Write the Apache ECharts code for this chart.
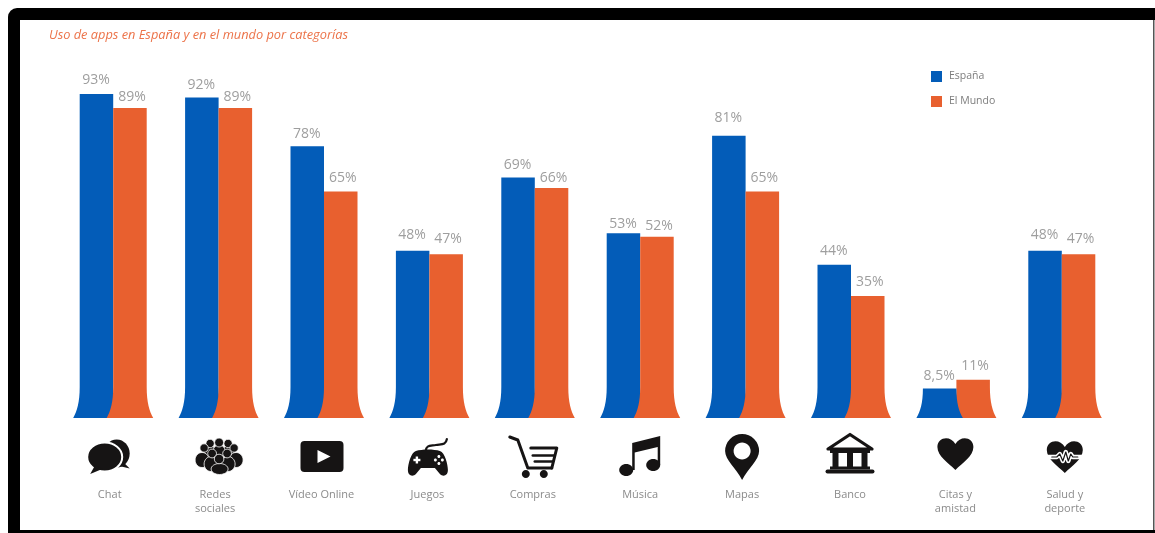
<!DOCTYPE html>
<html lang="es">
<head>
<meta charset="utf-8">
<title>Uso de apps en España y en el mundo por categorías</title>
<script src="https://cdn.jsdelivr.net/npm/echarts@6/dist/echarts.min.js"></script>
<style>
  html, body { margin: 0; padding: 0; background: #fff; }
  #chart { width: 1155px; height: 533px; }
</style>
</head>
<body>
<div id="chart"></div>
<script>
// Chart data
const chartTitle = 'Uso de apps en España y en el mundo por categorías';
const categories = ['Chat', 'Redes\nsociales', 'Vídeo Online', 'Juegos', 'Compras', 'Música', 'Mapas', 'Banco', 'Citas y\namistad', 'Salud y\ndeporte'];
const espana = [93, 92, 78, 48, 69, 53, 81, 44, 8.5, 48];
const mundo = [89, 89, 65, 47, 66, 52, 65, 35, 11, 47];

// Layout constants
const BLUE = '#035cb8';
const ORANGE = '#e8602f';
const INK = '#161414';
const BAR_W = 33.5;
const FLARE_W = 6.5;
const FLARE_H = 31;
const FONT = '"Open Sans", "Noto Sans", sans-serif';
const captionShift = [-3.5, -3.5, -2.5, -2, -2, 0, -3.5, -1, -1, 3];
const iconShift = [[-5, 39], [0.5, 38], [-2, 38.5], [-1.5, 39], [-1, 38], [0, 38], [-3.5, 38], [-1, 35], [-1, 35], [3, 38]];
const espanaLift = [15, 14, 14, 17, 14, 11, 19, 15, 14, 17];
const mundoLift = [12, 12, 15, 17, 12, 12, 15, 16, 15, 17];

// Icon primitives, drawn around the origin in pixels
const ell = (cx, cy, rx, ry, fill = INK, stroke, lineWidth) => ({ type: 'ellipse', shape: { cx, cy, rx, ry }, style: { fill, stroke, lineWidth } });
const fillPath = (pathData, fill = INK, stroke, lineWidth) => ({ type: 'path', shape: { pathData }, style: { fill, stroke, lineWidth } });
const line = (pathData, lineWidth, stroke = INK) => ({ type: 'path', shape: { pathData }, style: { fill: 'none', stroke, lineWidth, lineJoin: 'round', lineCap: 'round' } });
const box = (x, y, width, height, r = 0, fill = INK) => ({ type: 'rect', shape: { x, y, width, height, r }, style: { fill } });
const HEART = 'M0,17 C-7,10 -18,3 -18,-6 C-18,-16 -5,-18 0,-9 C5,-18 18,-16 18,-6 C18,3 7,10 0,17 Z';
const PULSE = 'L-8,1 L-5,-2 L-2,5 L1,-4 L3.5,5 L6,-2 L8,1 ';

const person = (hx, hy, r, bx, by, brx, bry) => [
  ell(bx, by, brx, bry, INK, '#fff', 0.8),
  ell(hx, hy, r, r, INK, '#fff', 0.8)
];

const icons = [
  // Chat bubbles
  [
    fillPath('M13,3 L21.5,11.5 L11,9 Z'),
    ell(8.5, -3.5, 13, 14),
    ell(-3.5, 0, 17.5, 14.5, INK, '#fff', 2),
    fillPath('M-13,8 L-18,17 L-6,12 Z')
  ],
  // Group of people
  [
    ...person(-9, -12.5, 4.2, -9, -4, 6, 6),
    ...person(9, -12.5, 4.2, 9, -4, 6, 6),
    ...person(0, -13.5, 4.5, 0, -5, 6, 6),
    ...person(-15, -8, 4.2, -17, 4, 7, 7.5),
    ...person(15, -8, 4.2, 17, 4, 7, 7.5),
    ...person(-7, -2.5, 4.4, -8, 8, 7, 7.5),
    ...person(8, -2.5, 4.4, 9, 8, 7, 7.5),
    ...person(0, 3, 4.8, 0.5, 13, 8.5, 5.5)
  ],
  // Video player
  [
    box(-21.5, -15.5, 43, 31, 4),
    fillPath('M-4.5,-6.5 L8.5,0 L-4.5,6.5 Z', '#fff')
  ],
  // Game controller
  [
    line('M-2,-6 C-2,-12 2,-11 8,-12 C14,-13 18,-12 19,-18', 2.2),
    fillPath('M-12,-6 C-6,-8 6,-8 12,-6 C17,-5 20,8 20,13 C20,19 15,20 12,17 L7,11 L-7,11 L-12,17 C-15,20 -20,19 -20,13 C-20,8 -17,-5 -12,-6 Z'),
    box(-14.5, 1.8, 7, 2.4, 0, '#fff'),
    box(-12.2, -0.5, 2.4, 7, 0, '#fff'),
    ell(11, -0.5, 1.5, 1.5, '#fff'),
    ell(11, 6.5, 1.5, 1.5, '#fff'),
    ell(7.5, 3, 1.5, 1.5, '#fff'),
    ell(14.5, 3, 1.5, 1.5, '#fff')
  ],
  // Shopping cart
  [
    line('M-24,-19 L-16,-16 L-6,12 L18,12', 3),
    line('M-3,-8 L23,-8 L18,12', 3),
    line('M-1,-0.5 L20,-0.5', 2.6),
    line('M1,5.5 L19,5.5', 2.6),
    ell(-8, 18, 4, 4),
    ell(10, 18, 4, 4)
  ],
  // Musical notes
  [
    fillPath('M-8,-13 L20,-20 L20,9 L17.5,9 L17.5,-9 L-5.5,-3.5 L-5.5,14 L-8,14 Z'),
    ell(-14, 14, 7, 6),
    ell(13, 9, 7, 6)
  ],
  // Map pin
  [
    fillPath('M0,24 C-6,12 -17,4 -17,-5 A17,17 0 1 1 17,-5 C17,4 6,12 0,24 Z'),
    ell(0, -5, 8.5, 8.5, '#fff')
  ],
  // Bank building
  [
    line('M-22,-4 L0,-18.5 L22,-4 Z', 3.2),
    box(-20, -3, 40, 3),
    box(-17.5, 0, 6, 16),
    box(-3, 0, 6, 16),
    box(11.5, 0, 6, 16),
    box(-20, 13.5, 40, 3),
    box(-24.5, 16.5, 49, 4, 2)
  ],
  // Heart
  [fillPath(HEART)],
  // Heart with pulse line
  [
    fillPath(HEART),
    line('M-20,1 ' + PULSE + 'L20,1', 4.4, '#fff'),
    line('M-13,1 ' + PULSE + 'L13,1', 1.2)
  ]
];

// One flared bar: straight sides that sweep outward near the baseline
function flaredBar(left, right, top, base) {
  const f = Math.min(FLARE_H, base - top);
  const k = f * 0.5;
  const c = FLARE_W * 0.42;
  const m = base - f * 0.22;
  return 'M' + left + ',' + top +
    ' L' + left + ',' + (base - f) +
    ' C' + left + ',' + (base - f + k) + ' ' + (left - c) + ',' + m + ' ' + (left - FLARE_W) + ',' + base +
    ' L' + (right + FLARE_W) + ',' + base +
    ' C' + (right + c) + ',' + m + ' ' + right + ',' + (base - f + k) + ' ' + right + ',' + (base - f) +
    ' L' + right + ',' + top + ' Z';
}

function barRenderer(side, partner, color, lifts) {
  return function (params, api) {
    const i = api.value(0);
    const v = api.value(1);
    const top = api.coord([i, v]);
    const base = api.coord([i, 0]);
    const left = side < 0 ? top[0] - BAR_W : top[0];
    const right = left + BAR_W;
    // The shorter bar of a pair overlaps the taller one at the baseline
    const z2 = v <= partner[i] ? 20 : 10;
    return {
      type: 'group',
      children: [
        { type: 'path', z2, shape: { pathData: flaredBar(left, right, top[1], base[1]) }, style: { fill: color } },
        {
          type: 'text', z2: 30, x: (left + right) / 2 + (side < 0 ? -0.5 : 2), y: top[1] - lifts[i] + 1.5,
          style: {
            text: String(v).replace('.', ',') + '%', fill: '#9e9e9e', fontSize: 14,
            fontFamily: FONT, align: 'center', verticalAlign: 'middle'
          }
        }
      ]
    };
  };
}

function iconRenderer(params, api) {
  const i = api.value(0);
  const base = api.coord([i, 0]);
  return {
    type: 'group',
    x: base[0] + iconShift[i][0],
    y: base[1] + iconShift[i][1],
    children: icons[i]
  };
}

// Caption styles carry the small horizontal nudge of each category name
const captionRich = {};
captionShift.forEach((s, i) => {
  captionRich['c' + i] = {
    color: '#8b8b8b', fontSize: 11, fontFamily: FONT, lineHeight: 14,
    padding: s < 0 ? [0, -2 * s, 0, 0] : [0, 0, 0, 2 * s]
  };
});

const chart = echarts.init(document.getElementById('chart'), null, { renderer: 'canvas' });
chart.setOption({
  animation: false,
  backgroundColor: '#fff',
  graphic: [
    { type: 'rect', z: 0, silent: true, shape: { x: 8, y: 8, width: 1147, height: 525, r: [9, 0, 0, 0] }, style: { fill: '#000' } },
    { type: 'rect', z: 0, silent: true, shape: { x: 20, y: 20, width: 1135, height: 510 }, style: { fill: '#fff' } },
    { type: 'rect', z: 0, silent: true, shape: { x: 1153, y: 20, width: 1.5, height: 510 }, style: { fill: '#555' } }
  ],
  title: {
    text: chartTitle, left: 49, top: 29, padding: 0,
    textStyle: { color: '#ec7349', fontSize: 12.8, fontStyle: 'italic', fontWeight: 'normal', fontFamily: FONT }
  },
  legend: {
    data: ['España', 'El Mundo'], orient: 'vertical', left: 931, top: 71, padding: 0,
    icon: 'rect', itemWidth: 11, itemHeight: 11, itemGap: 14,
    textStyle: { color: '#7d7d7d', fontSize: 10.5, fontFamily: FONT, padding: [0, 0, 0, 2] },
    selectedMode: false
  },
  grid: { left: 60.5, width: 1054, top: 69.6, height: 348.4 },
  xAxis: {
    type: 'category', data: categories,
    axisLine: { show: false }, axisTick: { show: false },
    axisLabel: {
      margin: 70, interval: 0, rich: captionRich,
      formatter: (value, i) => value.split('\n').map(t => '{c' + i + '|' + t + '}').join('\n')
    }
  },
  yAxis: { type: 'value', min: 0, max: 100, show: false, splitLine: { show: false } },
  series: [
    {
      name: 'España', type: 'custom', itemStyle: { color: BLUE }, clip: false,
      encode: { x: 0, y: 1 }, data: espana.map((v, i) => [i, v]),
      renderItem: barRenderer(-1, mundo, BLUE, espanaLift)
    },
    {
      name: 'El Mundo', type: 'custom', itemStyle: { color: ORANGE }, clip: false,
      encode: { x: 0, y: 1 }, data: mundo.map((v, i) => [i, v]),
      renderItem: barRenderer(1, espana, ORANGE, mundoLift)
    },
    {
      name: 'Iconos', type: 'custom', clip: false, silent: true,
      encode: { x: 0, y: 1 }, data: categories.map((c, i) => [i, 0]),
      renderItem: iconRenderer
    }
  ]
});
</script>
</body>
</html>
